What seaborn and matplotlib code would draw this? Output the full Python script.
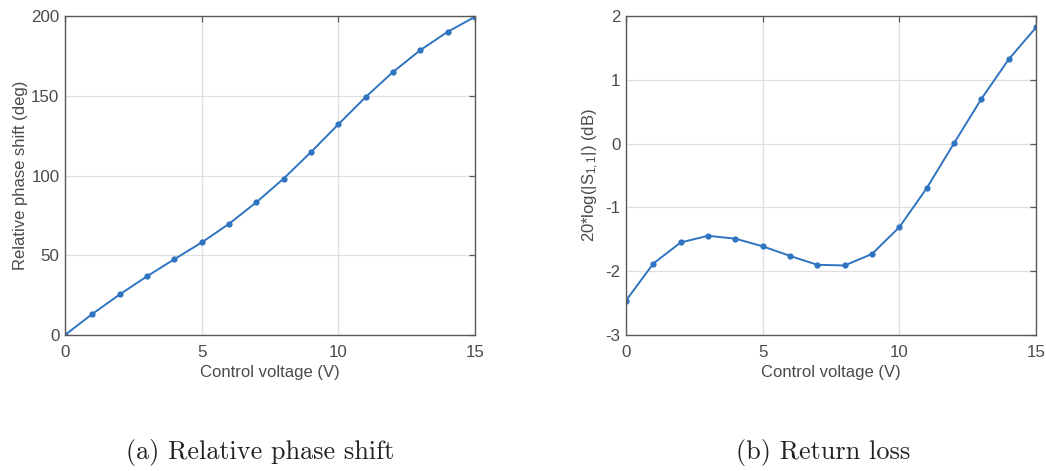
import numpy as np
import pandas as pd
import matplotlib
matplotlib.use("Agg")
import matplotlib.pyplot as plt
import seaborn as sns

# ---- data ----
voltage = [0, 1, 2, 3, 4, 5, 6, 7, 8, 9, 10, 11, 12, 13, 14, 15]
phase_shift = [0, 13.2, 25.4, 36.8, 47.5, 58.0, 69.7, 83.2, 98.1, 114.7,
               132.1, 149.2, 164.9, 178.6, 190.1, 199.5]
return_loss = [-2.46, -1.88, -1.55, -1.445, -1.49, -1.61, -1.76, -1.90, -1.91,
               -1.73, -1.31, -0.70, 0.005, 0.70, 1.32, 1.82]

xticks = [0, 5, 10, 15]
yticks_a = [0, 50, 100, 150, 200]
yticks_b = [-3, -2, -1, 0, 1, 2]

xlabel = "Control voltage (V)"
ylabel_a = "Relative phase shift (deg)"
ylabel_b = r"20*log(|S$_{\mathregular{1,1}}$|) (dB)"
caption_a = "(a) Relative phase shift"
caption_b = "(b) Return loss"

sns.set_style("white")
plt.rcParams["font.family"] = ["Liberation Sans", "DejaVu Sans"]
plt.rcParams["mathtext.fontset"] = "custom"
plt.rcParams["mathtext.rm"] = "Liberation Sans"
plt.rcParams["mathtext.it"] = "Liberation Sans:italic"
plt.rcParams["axes.unicode_minus"] = False

text_color = "#4a4a4a"
axis_color = "#5a5a5a"
line_color = "#2f74c0"

fig = plt.figure(figsize=(10.46, 4.71), dpi=100)
ax_a = fig.add_axes([65 / 1046, 1 - 335 / 471, 410 / 1046, 319 / 471])
ax_b = fig.add_axes([626 / 1046, 1 - 335 / 471, 410 / 1046, 319 / 471])

df_a = pd.DataFrame({"v": voltage, "y": phase_shift})
df_b = pd.DataFrame({"v": voltage, "y": return_loss})

for ax, df, yticks, ylabel, lp in [(ax_a, df_a, yticks_a, ylabel_a, 2),
                                   (ax_b, df_b, yticks_b, ylabel_b, 3)]:
    sns.lineplot(data=df, x="v", y="y", ax=ax, color=line_color, lw=1.4,
                 marker="o", markersize=4.5, markeredgewidth=0,
                 markerfacecolor=line_color)
    ax.set_xlim(0, 15)
    ax.set_ylim(yticks[0], yticks[-1])
    ax.set_xticks(xticks)
    ax.set_yticks(yticks)
    ax.grid(True, color="#dedede", lw=0.9)
    ax.set_axisbelow(True)
    for s in ax.spines.values():
        s.set_visible(True)
        s.set_color(axis_color)
        s.set_linewidth(1.0)
    ax.tick_params(direction="in", length=4, width=0.9, color=axis_color,
                   labelsize=12.2, labelcolor=text_color, top=True, right=True)
    ax.tick_params(axis="x", pad=7)
    ax.tick_params(axis="y", pad=4)
    ax.set_xlabel(xlabel, fontsize=12, color=text_color, labelpad=4)
    ax.set_ylabel(ylabel, fontsize=12, color=text_color, labelpad=lp)

fig.text(260 / 1046, 1 - 453 / 471, caption_a, family="cmr10", fontsize=18.9,
         ha="center", va="center", color="#222222")
fig.text(823 / 1046, 1 - 453 / 471, caption_b, family="cmr10", fontsize=18.9,
         ha="center", va="center", color="#222222")

fig.savefig("out.png", dpi=100, facecolor="white")
